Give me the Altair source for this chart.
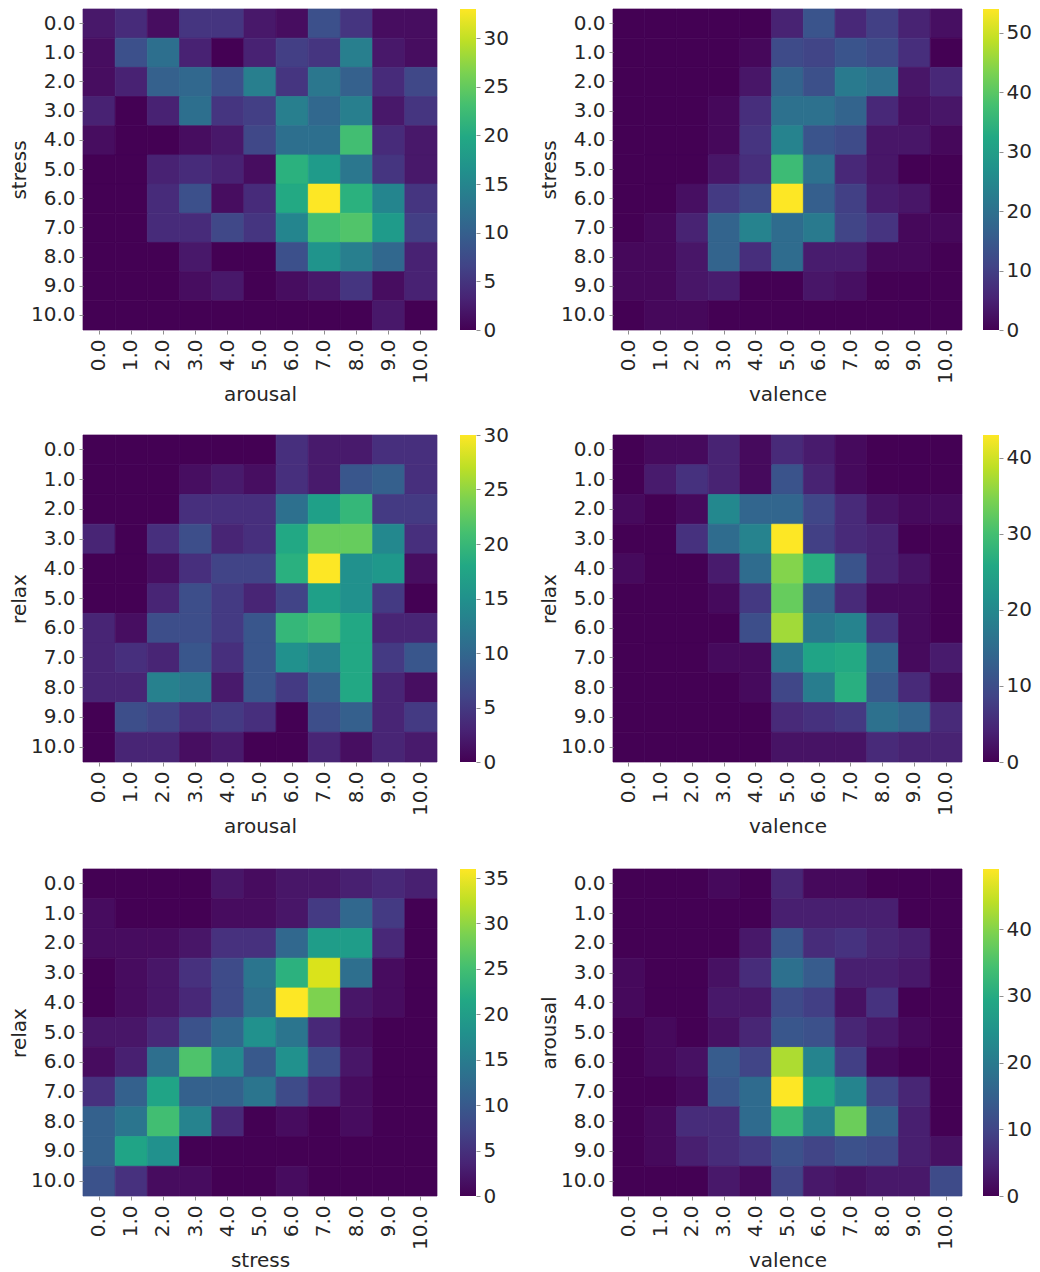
import altair as alt
import pandas as pd

levels = ["0.0","1.0","2.0","3.0","4.0","5.0","6.0","7.0","8.0","9.0","10.0"]
viridis_stops = ["#440154","#482475","#414487","#355f8d","#2a788e","#21918c",
                 "#22a884","#44bf70","#7ad151","#bddf26","#fde725"]

stress_arousal = [
 [2,4,1,5,5,2,1,8,5,1,1],
 [1,8,12,3,0,3,6,5,14,2,1],
 [1,3,10,11,8,14,5,13,10,4,7],
 [3,0,3,12,5,6,14,11,14,2,5],
 [1,0,0,1,2,7,12,12,23,4,2],
 [0,0,3,4,3,1,21,18,13,5,2],
 [0,0,4,8,1,4,20,33,21,15,5],
 [0,0,4,4,7,5,15,23,24,18,6],
 [0,0,0,2,0,0,8,17,14,11,3],
 [0,0,0,1,2,0,1,2,5,1,3],
 [0,0,0,0,0,0,0,0,0,2,0],
]
stress_valence = [
 [0,0,0,0,0,5,14,6,10,5,2],
 [0,0,0,0,1,12,11,14,12,7,0],
 [0,0,0,0,3,17,13,22,20,3,6],
 [0,0,0,1,7,20,20,17,6,2,3],
 [0,0,0,1,8,24,14,12,3,3,1],
 [0,0,0,3,7,37,20,6,3,0,0],
 [0,0,2,9,12,54,16,10,4,3,0],
 [0,1,5,17,24,19,22,11,8,1,1],
 [1,1,3,17,7,19,4,4,1,1,0],
 [1,1,3,4,0,0,3,2,0,0,0],
 [0,1,1,0,0,0,0,0,0,0,0],
]
relax_arousal = [
 [0,0,0,0,0,0,4,2,2,4,4],
 [0,0,0,1,2,1,4,2,8,9,4],
 [0,0,0,4,4,4,11,17,20,5,5],
 [3,0,4,7,3,4,18,23,23,14,4],
 [0,0,1,4,6,6,19,30,15,16,1],
 [0,0,3,7,5,3,6,17,15,5,0],
 [3,1,7,7,5,8,20,21,18,3,3],
 [3,4,3,8,4,8,15,13,18,5,8],
 [3,3,13,12,2,8,5,9,18,3,1],
 [0,7,6,4,5,4,0,7,9,3,5],
 [0,3,3,1,2,0,0,3,1,3,2],
]
relax_valence = [
 [0,1,1,4,1,5,3,1,0,0,0],
 [0,3,6,4,1,11,4,1,0,0,0],
 [1,0,1,20,14,14,9,5,2,1,1],
 [0,0,6,15,19,43,8,5,4,0,0],
 [1,0,0,3,15,35,27,11,4,2,0],
 [0,0,0,1,7,33,13,5,1,1,0],
 [0,0,0,0,10,37,17,19,6,1,0],
 [0,0,0,1,1,17,25,26,14,1,3],
 [0,0,0,0,1,9,18,27,12,5,1],
 [0,0,0,0,0,5,6,7,16,14,5],
 [0,0,0,0,0,2,2,2,5,4,4],
]
relax_stress = [
 [0,0,0,0,2,1,2,2,3,4,3],
 [1,0,0,0,1,1,2,6,12,6,0],
 [1,1,1,2,5,5,12,20,20,4,0],
 [0,1,2,5,8,14,23,34,13,1,0],
 [0,1,2,4,8,13,36,29,2,1,0],
 [2,2,4,9,12,18,14,4,1,0,0],
 [1,3,13,26,17,10,18,8,2,0,0],
 [5,11,21,11,11,14,8,4,1,0,0],
 [11,14,25,16,4,0,1,0,1,0,0],
 [11,21,18,0,0,0,0,0,0,0,0],
 [9,5,1,1,0,0,1,0,0,0,0],
]
arousal_valence = [
 [0,0,0,1,0,5,1,1,0,0,0],
 [0,0,0,0,0,4,4,4,4,0,0],
 [0,0,0,0,3,13,6,7,5,4,0],
 [1,0,0,2,6,18,14,4,4,3,0],
 [1,0,0,3,3,11,9,2,7,0,0],
 [0,1,0,2,5,13,12,5,3,1,0],
 [0,1,2,14,10,43,22,9,1,0,0],
 [0,0,1,13,17,49,29,22,10,5,0],
 [0,1,6,6,17,33,21,38,15,4,0],
 [0,1,4,6,8,12,10,12,11,4,2],
 [0,0,0,3,1,10,3,2,3,3,11],
]

INK = "#262626"
TICK = "#909090"
FONT = "DejaVu Sans"

def panel(matrix, xname, yname, ticks, h=327, w=354, gap=22):
    rows = [{"col": levels[j], "row": levels[i], "n": v}
            for i, r in enumerate(matrix) for j, v in enumerate(r)]
    top = max(max(r) for r in matrix)
    shade = alt.Scale(scheme="viridis", domain=[0, top], nice=False)
    cells = (
        alt.Chart(pd.DataFrame(rows))
        .mark_rect(strokeWidth=0.7)
        .encode(
            x=alt.X("col:N", sort=levels, title=xname,
                    scale=alt.Scale(paddingInner=0, paddingOuter=0),
                    axis=alt.Axis(labelAngle=270, labelPadding=5, titlePadding=1)),
            y=alt.Y("row:N", sort=levels, title=yname,
                    scale=alt.Scale(paddingInner=0, paddingOuter=0),
                    axis=alt.Axis(labelPadding=4, titlePadding=1)),
            color=alt.Color("n:Q", scale=shade, legend=None),
            stroke=alt.Stroke("n:Q", scale=shade, legend=None),
        )
        .properties(width=w, height=h)
    )
    bar = (
        alt.Chart(pd.DataFrame({"lo": [0], "hi": [top]}))
        .mark_rect(color=alt.Gradient(
            gradient="linear", x1=0, x2=0, y1=1, y2=0,
            stops=[alt.GradientStop(offset=i / 10, color=c) for i, c in enumerate(viridis_stops)]))
        .encode(
            y=alt.Y("lo:Q", title=None,
                    scale=alt.Scale(domain=[0, top], nice=False, zero=True),
                    axis=alt.Axis(orient="right", values=ticks, labelPadding=3,
                                  tickSize=4, labelFlush=False, labelBound=False,
                                  labelOverlap=False)),
            y2="hi:Q",
        )
        .properties(width=16, height=h)
    )
    return alt.hconcat(cells, bar, spacing=gap).resolve_scale(color="independent", stroke="independent", y="independent")

GAP = 30
W2 = 349

def row(a, b):
    return alt.hconcat(a, b, spacing=GAP).resolve_scale(color="independent", stroke="independent")

row1 = row(panel(stress_arousal, "arousal", "stress", [0,5,10,15,20,25,30], 321),
           panel(stress_valence, "valence", "stress", [0,10,20,30,40,50], 321, W2, 20))
row2 = row(panel(relax_arousal, "arousal", "relax", [0,5,10,15,20,25,30]),
           panel(relax_valence, "valence", "relax", [0,10,20,30,40], 327, W2, 20))
row3 = row(panel(relax_stress, "stress", "relax", [0,5,10,15,20,25,30,35]),
           panel(arousal_valence, "valence", "arousal", [0,10,20,30,40], 327, W2, 20))

upper = alt.vconcat(row1, row2, spacing=20).resolve_scale(color="independent", stroke="independent")
chart = (
    alt.vconcat(upper, row3, spacing=31)
    .resolve_scale(color="independent", stroke="independent")
    .properties(padding={"left": 1, "top": 0, "right": 0, "bottom": 0})
    .configure_axis(labelFontSize=20, titleFontSize=20, labelColor=INK, titleColor=INK,
                    titleFontWeight="normal", labelFont=FONT, titleFont=FONT,
                    domain=False, grid=False, tickSize=4, tickColor=TICK, tickWidth=1)
    .configure_view(stroke=None)
)

chart.save("out.html", embed_options={"renderer": "svg", "actions": False})
